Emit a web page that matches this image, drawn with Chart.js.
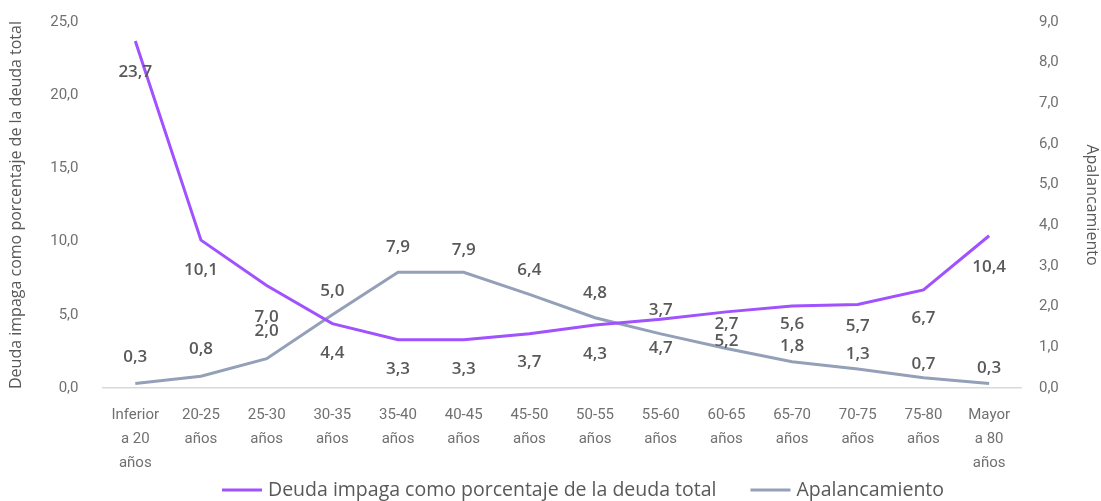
<!DOCTYPE html>
<html>
<head>
<meta charset="utf-8">
<script src="https://cdn.jsdelivr.net/npm/chart.js@4"></script>
<style>
  html, body { margin: 0; background: #fff; overflow: hidden; }
  #wrap { width: 1101px; height: 512px; margin-top: -11px; }
</style>
</head>
<body>
<div id="wrap"><canvas id="grafico"></canvas></div>
<script>
// tramos de edad
const tramos = [
    ["Inferior", "a 20", "años"],
    ["20-25", "años"],
    ["25-30", "años"],
    ["30-35", "años"],
    ["35-40", "años"],
    ["40-45", "años"],
    ["45-50", "años"],
    ["50-55", "años"],
    ["55-60", "años"],
    ["60-65", "años"],
    ["65-70", "años"],
    ["70-75", "años"],
    ["75-80", "años"],
    ["Mayor", "a 80", "años"],
];

const deudaImpaga = [23.7, 10.1, 7.0, 4.4, 3.3, 3.3, 3.7, 4.3, 4.7, 5.2, 5.6, 5.7, 6.7, 10.4];
const apalancamiento = [0.3, 0.8, 2.0, 5.0, 7.9, 7.9, 6.4, 4.8, 3.7, 2.7, 1.8, 1.3, 0.7, 0.3];

const gris = "#595959";
const grisEje = "#707070";
const fmt = (v) => v.toFixed(1).replace(".", ",");

// desplazamiento vertical de las etiquetas (px), como en el original
const despDeuda = [31, 30, 32, 30, 29, 29, 28, 29, 29, 29, 18, 22, 28, 31];
const despApal = [-26, -27, -28, -24, -25, -22, -24, -25, -24, -24, -15, -15, -14, -15];

const etiquetas = {
    id: "etiquetas",
    afterDatasetsDraw(chart) {
        const ctx = chart.ctx;
        ctx.save();
        ctx.font = "600 17px 'Open Sans'";
        ctx.fillStyle = gris;
        ctx.textAlign = "center";
        ctx.textBaseline = "middle";
        chart.data.datasets.forEach((ds, i) => {
            const desp = i === 0 ? despDeuda : despApal;
            chart.getDatasetMeta(i).data.forEach((pt, j) => {
                ctx.fillText(fmt(ds.data[j]), pt.x, pt.y + desp[j]);
            });
        });
        ctx.restore();
    },
};

// leyenda abajo, con más separación entre elementos que la nativa
const leyenda = {
    id: "leyenda",
    afterDraw(chart) {
        const ctx = chart.ctx;
        ctx.save();
        ctx.font = "19.5px 'Open Sans'";
        ctx.textBaseline = "middle";
        ctx.textAlign = "left";
        const y = chart.height - 11;
        let x = 222;
        chart.data.datasets.forEach((ds) => {
            ctx.strokeStyle = ds.borderColor;
            ctx.lineWidth = 3;
            ctx.beginPath();
            ctx.moveTo(x, y);
            ctx.lineTo(x + 40, y);
            ctx.stroke();
            ctx.fillStyle = gris;
            ctx.fillText(ds.label, x + 46, y);
            x += 46 + ctx.measureText(ds.label).width + 34;
        });
        ctx.restore();
    },
};

new Chart(document.getElementById("grafico"), {
    type: "line",
    data: {
        labels: tramos,
        datasets: [
            {
                label: "Deuda impaga como porcentaje de la deuda total",
                data: deudaImpaga,
                borderColor: "#a052ff",
                backgroundColor: "#a052ff",
                borderWidth: 3,
                pointRadius: 0,
                tension: 0,
                yAxisID: "y",
            },
            {
                label: "Apalancamiento",
                data: apalancamiento,
                borderColor: "#94a0b8",
                backgroundColor: "#94a0b8",
                borderWidth: 3,
                pointRadius: 0,
                tension: 0,
                yAxisID: "y",
            },
        ],
    },
    options: {
        responsive: true,
        maintainAspectRatio: false,
        animation: false,
        layout: { padding: { left: 7, right: 0, top: 0, bottom: 20 } },
        plugins: {
            tooltip: { enabled: false },
            legend: { display: false },
        },
        scales: {
            x: {
                offset: true,
                grid: { display: false, drawTicks: false },
                border: { display: false },
                afterFit: (s) => { s.height = 93; },
                ticks: {
                    color: grisEje,
                    padding: 15,
                    maxRotation: 0,
                    autoSkip: false,
                    font: { family: "Roboto", size: 15, lineHeight: 1.6 },
                },
            },
            y: {
                position: "left",
                min: 0,
                max: 25,
                ticks: {
                    stepSize: 5,
                    color: grisEje,
                    padding: 24,
                    callback: (v) => fmt(v),
                    font: { family: "Roboto", size: 15 },
                },
                grid: {
                    drawTicks: false,
                    color: (c) => (c.tick.value === 0 ? "#d9d9d9" : "transparent"),
                    lineWidth: 1.5,
                },
                border: { display: false },
                title: {
                    display: true,
                    text: "Deuda impaga como porcentaje de la deuda total",
                    color: gris,
                    padding: { top: 0, bottom: 0 },
                    font: { family: "'Open Sans'", size: 16 },
                },
            },
            y1: {
                position: "right",
                min: 0,
                max: 9,
                ticks: {
                    stepSize: 1,
                    color: grisEje,
                    padding: 17,
                    callback: (v) => fmt(v),
                    font: { family: "Roboto", size: 15 },
                },
                grid: { display: false, drawTicks: false },
                border: { display: false },
                title: {
                    display: true,
                    text: "Apalancamiento",
                    color: gris,
                    padding: { top: 0, bottom: 6 },
                    font: { family: "'Open Sans'", size: 16 },
                },
            },
        },
    },
    plugins: [etiquetas, leyenda],
});
</script>
</body>
</html>
